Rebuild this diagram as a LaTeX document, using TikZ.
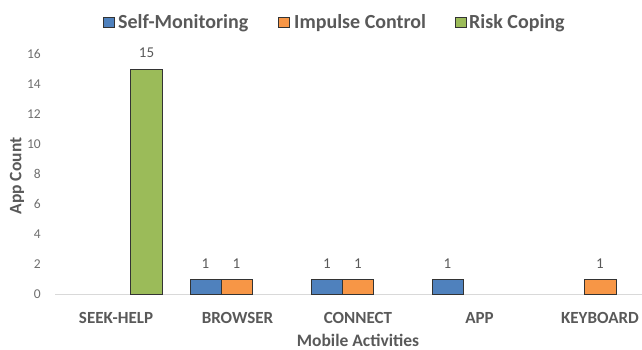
\documentclass[tikz,border=0pt]{standalone}
\usepackage{fontspec}
\setmainfont{Carlito}
\definecolor{txtgray}{HTML}{595959}
\definecolor{tickgray}{HTML}{6E6E6E}
\definecolor{axisgray}{HTML}{D9D9D9}
\definecolor{smblue}{HTML}{4F81BD}
\definecolor{icorange}{HTML}{F79646}
\definecolor{rcgreen}{HTML}{9BBB59}
\definecolor{edgegray}{HTML}{333333}
\begin{document}
\begin{tikzpicture}[x=1pt,y=-1pt,
  bar/.style={draw=edgegray,line width=1pt},
  legbox/.style={draw=edgegray,line width=0.9pt},
  legtext/.style={anchor=base west,inner sep=0pt,text=txtgray,font=\fontsize{20}{22}\selectfont\bfseries},
  ticklab/.style={anchor=base east,inner sep=0pt,text=tickgray,font=\fontsize{13.5}{15}\selectfont},
  datalab/.style={anchor=base,inner sep=0pt,text=txtgray,font=\fontsize{15}{17}\selectfont},
  catlab/.style={anchor=base,inner sep=0pt,text=txtgray,font=\fontsize{17}{19}\selectfont\bfseries},
  axtitle/.style={inner sep=0pt,text=txtgray,font=\fontsize{17.5}{19}\selectfont\bfseries}]
\useasboundingbox (0,0) rectangle (642,349);
% legend
\draw[legbox,fill=smblue] (103,17) rectangle (114,27);
\node[legtext] (l1) at (118,28) {Self-Monitoring};
\draw[legbox,fill=icorange] (278,17) rectangle (289,27);
\node[legtext] (l2) at (294,28) {Impulse Control};
\draw[legbox,fill=rcgreen] (455,17) rectangle (466,27);
\node[legtext] (l3) at (469,28) {Risk Coping};
% y tick labels
\foreach \v in {0,2,...,16} {
  \node[ticklab] (t\v) at (41,{294-15*\v+4}) {\v};
}
% axis line
\draw[axisgray,line width=1pt] (55,294) -- (642,294);
% bars
\draw[bar,fill=rcgreen] (130.5,294) rectangle (162,69);
\draw[bar,fill=smblue] (190,294) rectangle (221,279);
\draw[bar,fill=icorange] (221,294) rectangle (252,279);
\draw[bar,fill=smblue] (311.5,294) rectangle (342.5,279);
\draw[bar,fill=icorange] (342.5,294) rectangle (373.5,279);
\draw[bar,fill=smblue] (432,294) rectangle (463,279);
\draw[bar,fill=icorange] (584.5,294) rectangle (616,279);
% data labels
\node[datalab] (d1) at (146.5,57) {15};
\node[datalab] (d2) at (205.5,268) {1};
\node[datalab] (d3) at (236.5,268) {1};
\node[datalab] (d4) at (327,268) {1};
\node[datalab] (d5) at (358,268) {1};
\node[datalab] (d6) at (447.5,268) {1};
\node[datalab] (d7) at (600,268) {1};
% category labels
\node[catlab] (c1) at (116,323) {SEEK-HELP};
\node[catlab] (c2) at (237.5,323) {BROWSER};
\node[catlab] (c3) at (358,323) {CONNECT};
\node[catlab] (c4) at (479.5,323) {APP};
\node[catlab] (c5) at (600,323) {KEYBOARD};
% axis titles
\node[axtitle,anchor=base] (xt) at (358,346) {Mobile Activities};
\node[axtitle,rotate=90] (yt) at (17,176) {App Count};
\end{tikzpicture}
\end{document}
